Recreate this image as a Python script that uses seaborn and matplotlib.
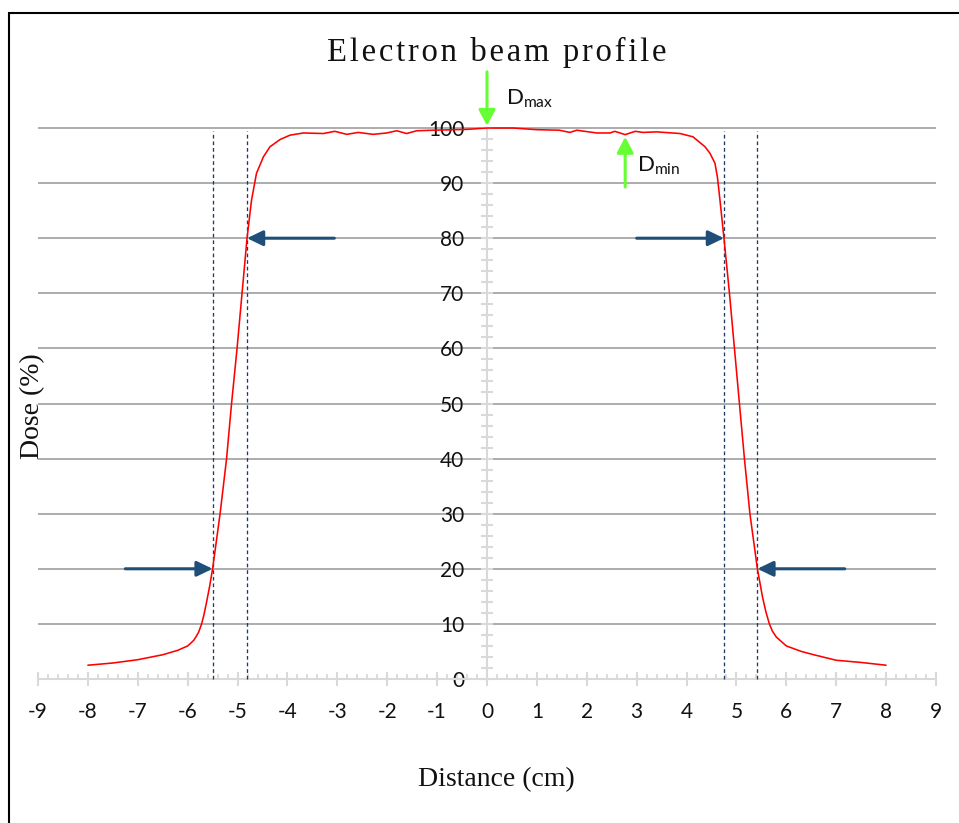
import numpy as np
import pandas as pd
import seaborn as sns
import matplotlib.pyplot as plt
from matplotlib.patches import FancyArrowPatch, Rectangle, ArrowStyle
from matplotlib.ticker import MultipleLocator

# Measured beam profile: off-axis distance (cm) and relative dose (%)
distance = [-8.0, -7.5, -7.0, -6.5, -6.2, -6.0, -5.95, -5.88, -5.83, -5.78,
            -5.72, -5.67, -5.62, -5.56, -5.5, -5.35, -5.22, -5.12, -5.01, -4.91,
            -4.81, -4.72, -4.62, -4.48, -4.35, -4.15, -3.95, -3.68, -3.28, -3.05,
            -2.81, -2.58, -2.28, -2.01, -1.81, -1.61, -1.41, -1.08, -0.41, 0.0,
            0.52, 1.0, 1.45, 1.66, 1.8, 2.2, 2.47, 2.56, 2.77, 2.97,
            3.13, 3.4, 3.87, 4.13, 4.37, 4.47, 4.57, 4.62, 4.67, 4.75,
            4.86, 4.96, 5.06, 5.16, 5.27, 5.42, 5.52, 5.59, 5.66, 5.72,
            5.8, 5.9, 6.0, 6.3, 6.55, 7.0, 7.5, 8.0]
dose = [2.5, 2.9, 3.5, 4.4, 5.2, 6.0, 6.4, 7.0, 7.7, 8.5,
        10.0, 11.8, 14.0, 16.8, 20.0, 30.0, 40.0, 50.0, 60.0, 70.0,
        80.0, 86.9, 91.8, 94.8, 96.6, 97.9, 98.7, 99.1, 99.0, 99.4,
        98.85, 99.2, 98.85, 99.1, 99.5, 99.0, 99.5, 99.6, 99.75, 100.0,
        100.0, 99.7, 99.6, 99.2, 99.6, 99.1, 99.1, 99.4, 98.8, 99.4,
        99.2, 99.3, 99.0, 98.4, 96.6, 95.4, 93.6, 91.0, 86.9, 80.0,
        70.0, 60.0, 50.0, 40.0, 30.0, 20.0, 15.0, 12.2, 10.0, 8.7,
        7.6, 6.8, 6.0, 5.0, 4.4, 3.4, 3.0, 2.5]

x_ticks = list(range(-9, 10))
x_tick_labels = [str(v) for v in x_ticks]
y_ticks = list(range(0, 101, 10))
y_tick_labels = [str(v) for v in y_ticks]

# 20 % and 80 % isodose crossings on each side of the field
edge_20 = [-5.50, 5.42]
edge_80 = [-4.81, 4.75]

# Plateau extremes
d_max_pos, d_max = 0.0, 100.0
d_min_pos, d_min = 2.77, 98.8

title = "Electron beam profile"
x_label = "Distance (cm)"
y_label = "Dose (%)"

sns.set_theme(style="white")
plt.rcParams["font.family"] = ["Lato", "DejaVu Sans"]
plt.rcParams["mathtext.fontset"] = "custom"
plt.rcParams["mathtext.rm"] = "Lato"
plt.rcParams["mathtext.it"] = "Lato:italic"
plt.rcParams["mathtext.bf"] = "Lato:bold"
serif = ["Liberation Serif", "DejaVu Serif"]

fig = plt.figure(figsize=(9.59, 8.23), dpi=100)
ax = fig.add_axes([0.03962, 0.16829, 0.93639, 0.68286])

df = pd.DataFrame({"Distance": distance, "Dose": dose})
sns.lineplot(data=df, x="Distance", y="Dose", color="#FF0000", lw=1.15,
             ax=ax, clip_on=False, zorder=5)

ax.set_xlim(-9, 9)
ax.set_ylim(-1, 101)
ax.set_xlabel("")
ax.set_ylabel("")

for side in ["top", "right"]:
    ax.spines[side].set_visible(False)
ax.spines["left"].set_position(("data", 0))
ax.spines["left"].set_bounds(0, 100)
ax.spines["bottom"].set_position(("data", 0))
for side in ["left", "bottom"]:
    ax.spines[side].set_color("#D9D9D9")
    ax.spines[side].set_linewidth(1.5)
    ax.spines[side].set_zorder(3)

ax.set_xticks(x_ticks, x_tick_labels)
ax.set_yticks(y_ticks, y_tick_labels)
ax.xaxis.set_minor_locator(MultipleLocator(0.2))
ax.yaxis.set_minor_locator(MultipleLocator(2))

ax.set_axisbelow(True)
ax.grid(axis="y", color="#A6A6A6", lw=1.3)
ax.grid(axis="x", visible=False)

ax.tick_params(axis="x", which="both", bottom=True, top=False)
ax.tick_params(axis="y", which="both", left=True, right=False)
ax.tick_params(axis="x", which="major", direction="inout", length=10, width=1.5,
               color="#D9D9D9", pad=11.5, labelsize=15, labelcolor="#111111")
ax.tick_params(axis="x", which="minor", direction="in", length=3.8, width=1.3,
               color="#D9D9D9")
ax.tick_params(axis="y", which="both", direction="inout", length=8.6, width=1.5,
               color="#D9D9D9")
ax.tick_params(axis="y", which="major", pad=12.0, labelsize=15,
               labelcolor="#111111")

# Field edge markers
ax.vlines(edge_20 + edge_80, 0, 99.5, colors="#203864", lw=0.95,
          linestyles=(0, (2.8, 2.2)), zorder=4)


def arrow(start, end, color, lw, head_length, head_width):
    style = ArrowStyle("-|>", head_length=head_length, head_width=head_width)
    ax.add_patch(FancyArrowPatch(start, end, arrowstyle=style, color=color,
                                 lw=lw, shrinkA=0, shrinkB=0, mutation_scale=1,
                                 clip_on=False, zorder=6))


blue = "#1F4E79"
reach = 1.75
arrow((edge_20[0] - reach, 20), (edge_20[0], 20), blue, 2.2, 9.5, 4.6)
arrow((edge_80[0] + reach, 80), (edge_80[0], 80), blue, 2.2, 9.5, 4.6)
arrow((edge_80[1] - reach, 80), (edge_80[1], 80), blue, 2.2, 9.5, 4.6)
arrow((edge_20[1] + reach, 20), (edge_20[1], 20), blue, 2.2, 9.5, 4.6)

green = "#66FF33"
arrow((d_max_pos, d_max + 10.2), (d_max_pos, d_max + 0.4), green, 2.2, 9.5, 5.0)
arrow((d_min_pos, d_min - 9.5), (d_min_pos, d_min - 0.4), green, 2.2, 9.5, 5.0)

ax.text(d_max_pos + 0.38, d_max + 4.2, r"$\mathrm{D_{max}}$", fontsize=16,
        ha="left", va="baseline", color="#111111")
ax.text(d_min_pos + 0.23, d_min - 6.8, r"$\mathrm{D_{min}}$", fontsize=16,
        ha="left", va="baseline", color="#111111")

fig.text(497 / 959, 1 - 61 / 823, "\u200a".join(title), ha="center",
         va="baseline", fontsize=23.5, family=serif, color="#111111")
fig.text(496 / 959, 1 - 786 / 823, x_label, ha="center", va="baseline",
         fontsize=20, family=serif, color="#111111")
fig.text(33 / 959, 1 - 406 / 823, y_label, rotation=90, ha="center",
         va="center", fontsize=20, family=serif, color="#111111")

# Frame around the figure
fig.add_artist(Rectangle((8.5 / 959, -0.1), 1.5, 1.1 - 13.5 / 823,
                         transform=fig.transFigure, fill=False,
                         edgecolor="black", lw=1.5, clip_on=False))

fig.savefig("out.png", dpi=100)
